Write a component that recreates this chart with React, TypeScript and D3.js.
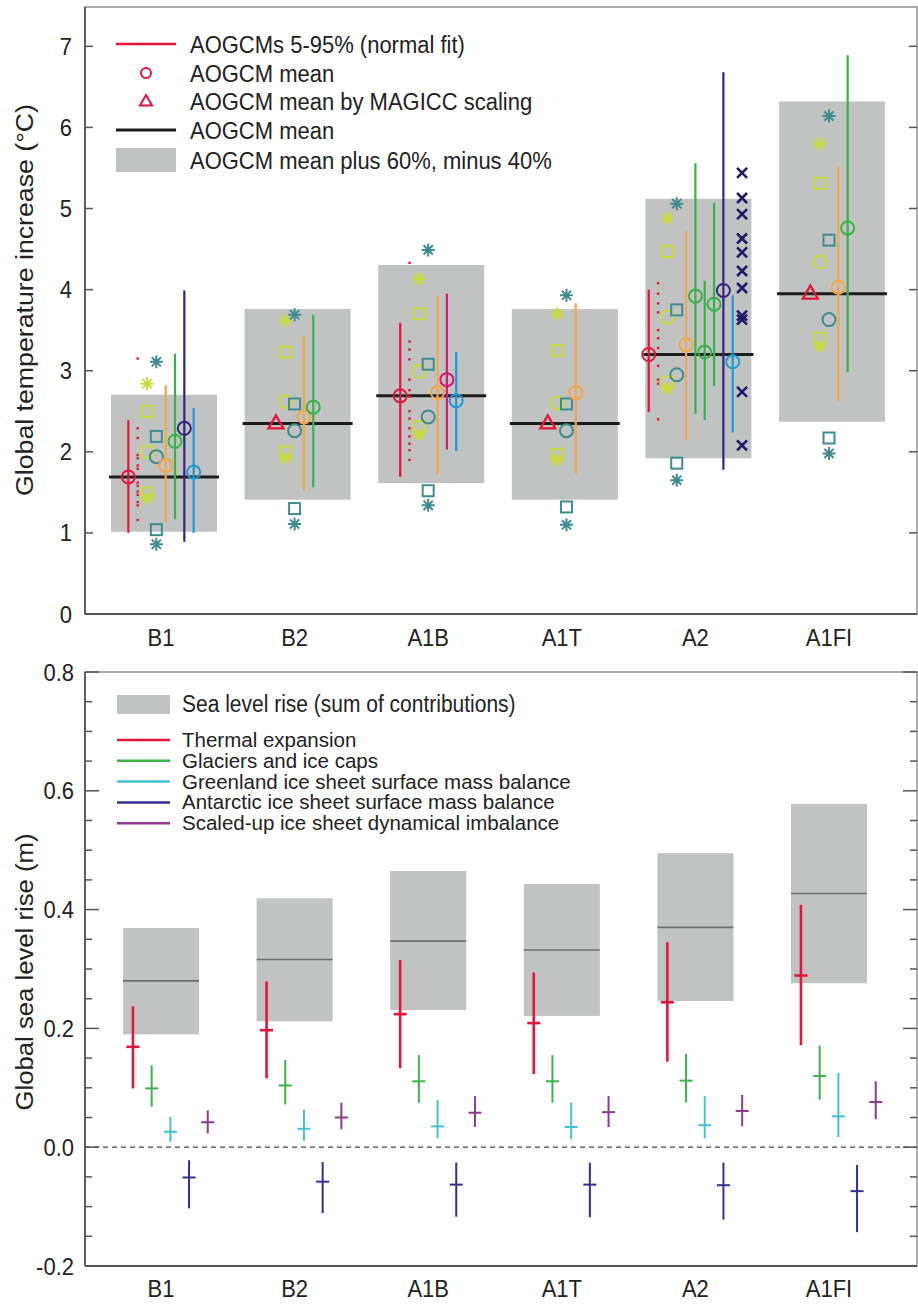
import React from "react";
import * as d3 from "d3";

const W = 918;
const H = 1304;
const FONT = "'Liberation Sans', Arial, Helvetica, sans-serif";

// ---------- data ----------
const scenarios = ["B1", "B2", "A1B", "A1T", "A2", "A1FI"];

// upper panel: global temperature increase (°C)
const tempMean = [1.69, 2.35, 2.69, 2.35, 3.2, 3.95];
const fitLow = [1.0, null, 1.69, null, 2.49, null];
const fitHigh = [2.39, null, 3.59, null, 4.0, null];
const magiccScaled = [false, true, false, true, false, true];
const modelDots = [
  [3.15, 2.29, 2.17, 1.96, 1.92, 1.83, 1.79, 1.62, 1.58, 1.51, 1.47, 1.38, 1.34, 1.16],
  [],
  [4.33, 3.36, 3.26, 3.14, 2.89, 2.76, 2.68, 2.5, 2.41, 2.29, 2.19, 2.1, 2.02, 1.9],
  [],
  [4.08, 3.95, 3.83, 3.72, 3.5, 3.4, 3.28, 3.06, 2.89, 2.84, 2.4],
  [],
];
// asterisk, square, circle, square, asterisk
const symbolShapes = ["asterisk", "square", "circle", "square", "asterisk"];
const limeModel = [
  [2.84, 2.5, 2.0, 1.49, 1.43],
  [3.62, 3.23, 2.62, 2.0, 1.92],
  [4.13, 3.7, 2.99, 2.31, 2.21],
  [3.7, 3.25, 2.6, 1.97, 1.9],
  [4.88, 4.47, 3.66, 2.86, 2.78],
  [5.8, 5.31, 4.34, 3.4, 3.3],
];
const tealModel = [
  [3.11, 2.19, 1.94, 1.04, 0.86],
  [3.69, 2.59, 2.26, 1.3, 1.11],
  [4.49, 3.08, 2.43, 1.52, 1.34],
  [3.93, 2.59, 2.26, 1.32, 1.1],
  [5.06, 3.75, 2.95, 1.86, 1.65],
  [6.14, 4.61, 3.63, 2.17, 1.98],
];
const runModel = [
  ["orange", "green", "navy", "blue"],
  ["orange", "green"],
  ["orange", "magenta", "blue"],
  ["orange"],
  ["orange", "green", "green", "green", "navy", "blue"],
  ["orange", "green"],
];
const runLow = [[1.13, 1.17, 0.89, 1.0], [1.52, 1.56], [1.72, 2.03, 2.01], [1.73], [2.14, 2.47, 2.39, 2.81, 1.78, 2.24], [2.62, 2.98]];
const runHigh = [[2.82, 3.21, 3.99, 2.54], [3.43, 3.69], [3.92, 3.95, 3.23], [3.83], [4.73, 5.56, 4.11, 5.07, 6.68, 3.93], [5.52, 6.89]];
const runMean = [[1.83, 2.13, 2.29, 1.75], [2.43, 2.55], [2.73, 2.89, 2.63], [2.73], [3.32, 3.92, 3.23, 3.82, 3.99, 3.11], [4.03, 4.76]];
const crossMarks = [[], [], [], [], [5.44, 5.13, 4.93, 4.63, 4.46, 4.23, 4.02, 3.68, 3.63, 2.74, 2.08], []];
const tempTicks = [0, 1, 2, 3, 4, 5, 6, 7];

// lower panel: global sea level rise (m)
const slrLow = [0.19, 0.212, 0.231, 0.221, 0.246, 0.276];
const slrMid = [0.28, 0.316, 0.347, 0.332, 0.37, 0.427];
const slrHigh = [0.369, 0.419, 0.465, 0.443, 0.495, 0.578];
const components = [
  "Thermal expansion",
  "Glaciers and ice caps",
  "Greenland ice sheet surface mass balance",
  "Antarctic ice sheet surface mass balance",
  "Scaled-up ice sheet dynamical imbalance",
];
// [low, mid, high] per scenario
const thermal = [[0.099, 0.169, 0.237], [0.116, 0.197, 0.279], [0.133, 0.224, 0.315], [0.123, 0.209, 0.294], [0.144, 0.244, 0.345], [0.172, 0.289, 0.408]];
const glaciers = [[0.068, 0.099, 0.138], [0.072, 0.104, 0.147], [0.075, 0.111, 0.155], [0.075, 0.111, 0.155], [0.075, 0.112, 0.157], [0.08, 0.12, 0.171]];
const greenland = [[0.009, 0.026, 0.051], [0.011, 0.031, 0.063], [0.015, 0.035, 0.079], [0.013, 0.034, 0.075], [0.015, 0.037, 0.086], [0.017, 0.052, 0.125]];
const antarctic = [[-0.103, -0.051, -0.022], [-0.111, -0.058, -0.025], [-0.117, -0.063, -0.026], [-0.118, -0.063, -0.026], [-0.122, -0.064, -0.026], [-0.143, -0.074, -0.03]];
const dynamics = [[0.023, 0.042, 0.062], [0.03, 0.05, 0.075], [0.034, 0.058, 0.086], [0.034, 0.059, 0.086], [0.035, 0.061, 0.088], [0.047, 0.076, 0.111]];
const slrTicks = [-0.2, 0, 0.2, 0.4, 0.6, 0.8];

// ---------- styles ----------
const C = {
  red: "#e3163a",
  lime: "#c8dd3a",
  teal: "#3e8c8d",
  orange: "#f4a647",
  green: "#38b24a",
  navy: "#34257f",
  blue: "#1f99d6",
  magenta: "#d5186f",
  cross: "#201767",
  box: "#c1c2c2",
  axis: "#555",
};
const compColor = ["#e3163a", "#3cb44b", "#48c1cf", "#2e3190", "#8b3a8c"];

const topP = { left: 85, right: 917, top: 7, bottom: 614 };
const botP = { left: 85, right: 917, top: 672, bottom: 1266 };

const xCat = d3.scalePoint<string>().domain(scenarios).range([161, 829]);
const boxHalf = 53;
const colTop = 9.33;
const colBot = 18.7;
const STRETCH = 1.12; // the figure's lettering is slightly tall

const yT = d3.scaleLinear().domain([0, 7.485]).range([topP.bottom, topP.top]);
const yB = d3.scaleLinear().domain([-0.2, 0.8]).range([botP.bottom, botP.top]);

// horizontal text, a little taller than wide like the original lettering
function Label({ x, y, size, anchor, stretch, children }: { x: number; y: number; size: number; anchor?: string; stretch?: number; children: React.ReactNode }) {
  return (
    <text transform={`translate(${x},${y}) scale(1,${stretch ?? STRETCH})`} textAnchor={anchor || "start"} fontSize={size} fill="#222">
      {children}
    </text>
  );
}

function Symbol({ shape, x, y, color }: { shape: string; x: number; y: number; color: string }) {
  if (shape === "circle") return <circle cx={x} cy={y} r={6.5} fill="none" stroke={color} strokeWidth={2} />;
  if (shape === "square") return <rect x={x - 5.5} y={y - 5.5} width={11} height={11} fill="none" stroke={color} strokeWidth={2} />;
  if (shape === "triangle")
    return <path d={`M${x},${y - 8}L${x + 7.5},${y + 5}L${x - 7.5},${y + 5}Z`} fill="none" stroke={color} strokeWidth={2.3} />;
  if (shape === "cross")
    return <path d={`M${x - 5},${y - 5}L${x + 5},${y + 5}M${x - 5},${y + 5}L${x + 5},${y - 5}`} stroke={color} strokeWidth={2.6} />;
  // asterisk
  const r = 6.5;
  const d = [0, 45, 90, 135]
    .map((a) => {
      const c = Math.cos((a * Math.PI) / 180) * r;
      const s = Math.sin((a * Math.PI) / 180) * r;
      return `M${x - c},${y - s}L${x + c},${y + s}`;
    })
    .join("");
  return <path d={d} stroke={color} strokeWidth={2} />;
}

function topColumns(i: number) {
  const cols: { kind: string; k?: number }[] = [];
  cols.push({ kind: magiccScaled[i] ? "tri" : "fit" });
  if (modelDots[i].length) cols.push({ kind: "dots" });
  cols.push({ kind: "lime" });
  cols.push({ kind: "teal" });
  runModel[i].forEach((_, k) => cols.push({ kind: "run", k }));
  if (crossMarks[i].length) cols.push({ kind: "cross" });
  return cols;
}

function TopPanel() {
  const els: React.ReactNode[] = [];
  scenarios.forEach((s, i) => {
    const cx = xCat(s)!;
    els.push(<rect key={`box${i}`} x={cx - boxHalf + 3} y={yT(tempMean[i] * 1.6)} width={boxHalf * 2} height={yT(tempMean[i] * 0.6) - yT(tempMean[i] * 1.6)} fill={C.box} />);
  });
  scenarios.forEach((s, i) => {
    const cx = xCat(s)!;
    els.push(<line key={`mean${i}`} x1={cx - boxHalf + 1} x2={cx + boxHalf + 5} y1={yT(tempMean[i])} y2={yT(tempMean[i])} stroke="#1c1c1c" strokeWidth={3} />);
  });
  scenarios.forEach((s, i) => {
    const cols = topColumns(i);
    const n = cols.length;
    cols.forEach((col, c) => {
      const x = xCat(s)! + (c - (n - 1) / 2) * colTop;
      const key = `${i}-${c}`;
      if (col.kind === "fit") {
        els.push(
          <g key={key}>
            <line x1={x} x2={x} y1={yT(fitLow[i]!)} y2={yT(fitHigh[i]!)} stroke={C.red} strokeWidth={2.2} />
            <Symbol shape="circle" x={x} y={yT(tempMean[i])} color={C.red} />
          </g>
        );
      } else if (col.kind === "tri") {
        els.push(<Symbol key={key} shape="triangle" x={x} y={yT(tempMean[i])} color={C.red} />);
      } else if (col.kind === "dots") {
        modelDots[i].forEach((v, j) => els.push(<rect key={`${key}d${j}`} x={x - 1.2} y={yT(v) - 1.2} width={2.4} height={2.4} fill={C.red} />));
      } else if (col.kind === "lime" || col.kind === "teal") {
        const vals = col.kind === "lime" ? limeModel[i] : tealModel[i];
        const color = col.kind === "lime" ? C.lime : C.teal;
        vals.forEach((v, j) => els.push(<Symbol key={`${key}s${j}`} shape={symbolShapes[j]} x={x} y={yT(v)} color={color} />));
      } else if (col.kind === "run") {
        const k = col.k!;
        const color = (C as any)[runModel[i][k]];
        els.push(
          <g key={key}>
            <line x1={x} x2={x} y1={yT(runLow[i][k])} y2={yT(runHigh[i][k])} stroke={color} strokeWidth={2.2} />
            <Symbol shape="circle" x={x} y={yT(runMean[i][k])} color={color} />
          </g>
        );
      } else if (col.kind === "cross") {
        crossMarks[i].forEach((v, j) => els.push(<Symbol key={`${key}x${j}`} shape="cross" x={x} y={yT(v)} color={C.cross} />));
      }
    });
  });

  const legendRows = [
    "AOGCMs 5-95% (normal fit)",
    "AOGCM mean",
    "AOGCM mean by MAGICC scaling",
    "AOGCM mean",
    "AOGCM mean plus 60%, minus 40%",
  ];
  const rowY = [44, 73, 101, 130, 160];

  return (
    <g>
      {els}
      {/* frame */}
      <rect x={topP.left} y={topP.top} width={topP.right - topP.left} height={topP.bottom - topP.top} fill="none" stroke="#777" strokeWidth={1.2} />
      <line x1={topP.left} x2={topP.left} y1={topP.top} y2={topP.bottom} stroke={C.axis} strokeWidth={1.8} />
      <line x1={topP.left} x2={topP.right} y1={topP.bottom} y2={topP.bottom} stroke={C.axis} strokeWidth={1.8} />
      {tempTicks.map((t) => (
        <g key={`tt${t}`}>
          <line x1={topP.left} x2={topP.left + 8} y1={yT(t)} y2={yT(t)} stroke={C.axis} strokeWidth={1.5} />
          <line x1={topP.right - 8} x2={topP.right} y1={yT(t)} y2={yT(t)} stroke={C.axis} strokeWidth={1.5} />
          <Label x={72} y={yT(t) + 8.5} size={22} anchor="end">{t}</Label>
        </g>
      ))}
      {scenarios.map((s) => (
        <Label key={`xl${s}`} x={xCat(s)!} y={646} size={22} anchor="middle">{s}</Label>
      ))}
      <text transform={`translate(33,300) rotate(-90)`} textAnchor="middle" fontSize={23} fill="#222" textLength={392} lengthAdjust="spacingAndGlyphs">
        Global temperature increase (°C)
      </text>
      {/* legend */}
      <line x1={116} x2={176} y1={rowY[0]} y2={rowY[0]} stroke={C.red} strokeWidth={2.5} />
      <circle cx={146} cy={rowY[1]} r={5} fill="none" stroke={C.red} strokeWidth={2} />
      <path d={`M146,${rowY[2] - 6}L152,${rowY[2] + 4.5}L140,${rowY[2] + 4.5}Z`} fill="none" stroke={C.red} strokeWidth={2} />
      <line x1={116} x2={176} y1={rowY[3]} y2={rowY[3]} stroke="#1c1c1c" strokeWidth={3} />
      <rect x={116} y={rowY[4] - 12} width={60} height={24} fill={C.box} />
      {legendRows.map((t, j) => (
        <Label key={`lg${j}`} x={190} y={rowY[j] + 8.5} size={22}>{t}</Label>
      ))}
    </g>
  );
}

function BottomPanel() {
  const comps = [thermal, glaciers, greenland, antarctic, dynamics];
  const els: React.ReactNode[] = [];
  scenarios.forEach((s, i) => {
    const cx = xCat(s)!;
    els.push(<rect key={`b${i}`} x={cx - 38} y={yB(slrHigh[i])} width={76} height={yB(slrLow[i]) - yB(slrHigh[i])} fill={C.box} />);
    els.push(<line key={`bm${i}`} x1={cx - 38} x2={cx + 38} y1={yB(slrMid[i])} y2={yB(slrMid[i])} stroke="#6e6e6e" strokeWidth={1.6} />);
  });
  const minor = d3.range(-0.2, 0.8001, 0.05);
  return (
    <g>
      {els}
      <line x1={botP.left} x2={botP.right} y1={yB(0)} y2={yB(0)} stroke="#444" strokeWidth={1.3} strokeDasharray="5,4" />
      {scenarios.map((s, i) =>
        comps.map((comp, c) => {
          const x = xCat(s)! + (c - 1.5) * colBot;
          const [lo, mid, hi] = comp[i];
          const sw = c === 0 ? 2.6 : 2;
          return (
            <g key={`e${i}-${c}`}>
              <line x1={x} x2={x} y1={yB(lo)} y2={yB(hi)} stroke={compColor[c]} strokeWidth={sw} />
              <line x1={x - 6.5} x2={x + 6.5} y1={yB(mid)} y2={yB(mid)} stroke={compColor[c]} strokeWidth={sw} />
            </g>
          );
        })
      )}
      <rect x={botP.left} y={botP.top} width={botP.right - botP.left} height={botP.bottom - botP.top} fill="none" stroke="#777" strokeWidth={1.2} />
      <line x1={botP.left} x2={botP.left} y1={botP.top} y2={botP.bottom} stroke={C.axis} strokeWidth={1.8} />
      <line x1={botP.left} x2={botP.right} y1={botP.bottom} y2={botP.bottom} stroke={C.axis} strokeWidth={1.8} />
      {minor.map((t, j) => {
        const major = j % 4 === 0;
        const len = major ? 14 : 7;
        return (
          <g key={`mt${j}`}>
            <line x1={botP.left} x2={botP.left + len} y1={yB(t)} y2={yB(t)} stroke={C.axis} strokeWidth={1.5} />
            <line x1={botP.right - len} x2={botP.right} y1={yB(t)} y2={yB(t)} stroke={C.axis} strokeWidth={1.5} />
          </g>
        );
      })}
      {slrTicks.map((t) => (
        <Label key={`st${t}`} x={74} y={yB(t) + 8.5} size={22} anchor="end">{d3.format(".1f")(t).replace("−", "-")}</Label>
      ))}
      {scenarios.map((s) => (
        <Label key={`bx${s}`} x={xCat(s)!} y={1297} size={22} anchor="middle">{s}</Label>
      ))}
      <text transform={`translate(33,972) rotate(-90)`} textAnchor="middle" fontSize={23} fill="#222" textLength={277} lengthAdjust="spacingAndGlyphs">
        Global sea level rise (m)
      </text>
      {/* legend */}
      <rect x={117} y={695} width={53} height={19} fill={C.box} />
      <Label x={182} y={712} size={21}>Sea level rise (sum of contributions)</Label>
      {components.map((name, c) => {
        const y = 740 + c * 20.8;
        return (
          <g key={`cl${c}`}>
            <line x1={117} x2={170} y1={y} y2={y} stroke={compColor[c]} strokeWidth={2.5} />
            <Label x={182} y={y + 7} size={20.5} stretch={1}>{name}</Label>
          </g>
        );
      })}
    </g>
  );
}

export default function App() {
  return (
    <svg width={W} height={H} viewBox={`0 0 ${W} ${H}`} style={{ display: "block", position: "absolute", left: 0, top: 0, background: "#fff", fontFamily: FONT }}>
      <rect width={W} height={H} fill="#fff" />
      <TopPanel />
      <BottomPanel />
    </svg>
  );
}
